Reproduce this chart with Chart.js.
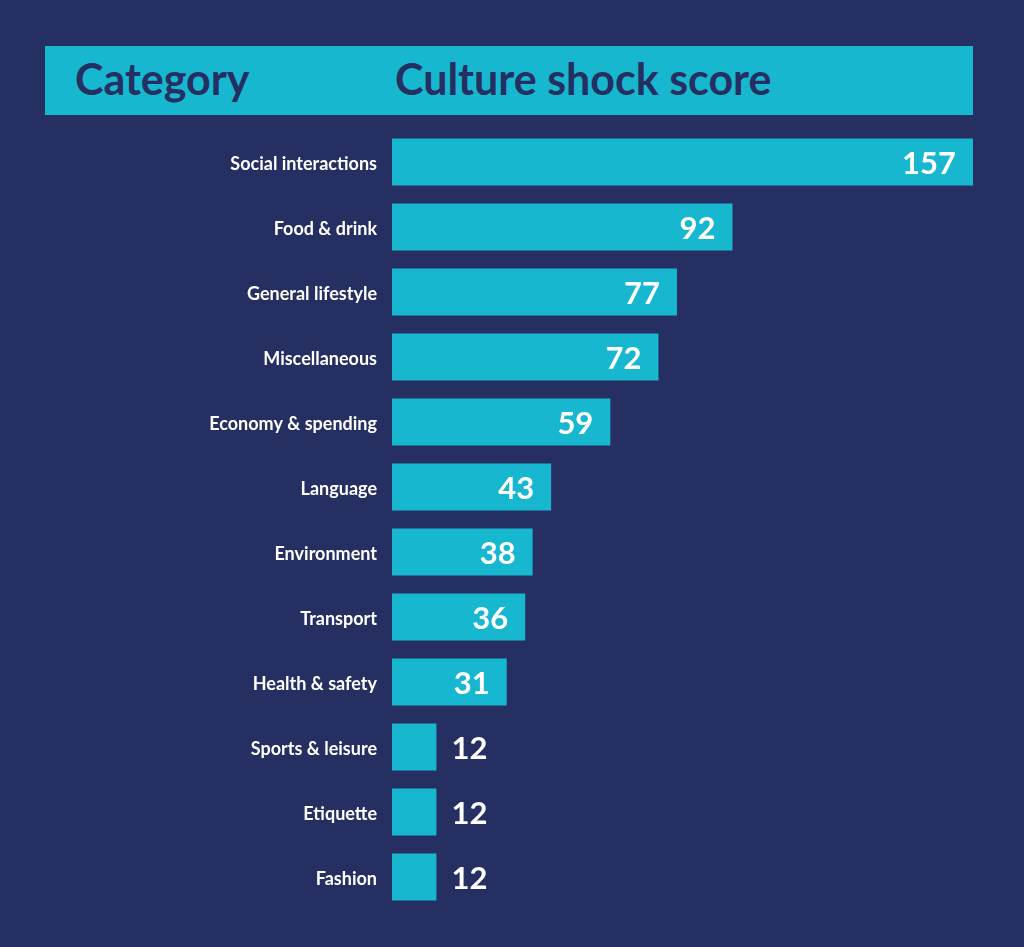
<!DOCTYPE html>
<html lang="en">
<head>
    <meta charset="UTF-8">
    <title>Culture shock score</title>
    <script src="https://cdn.jsdelivr.net/npm/chart.js"></script>
    <style>
        html, body { margin: 0; padding: 0; background: #252f62; }
        #wrap { position: relative; width: 1024px; height: 947px; overflow: hidden; }
        #head {
            position: absolute; left: 45px; top: 46px; width: 928px; height: 69px;
            background: #18b7d0; color: #252f62;
            font-family: Lato, "Open Sans", sans-serif; font-weight: bold; font-size: 43px;
        }
        #head span { position: absolute; top: 9px; line-height: 48px; }
        #chartBox { position: absolute; left: 0; top: 0; width: 1024px; height: 947px; }
    </style>
</head>
<body>
<div id="wrap">
    <div id="head">
        <span style="left:30px">Category</span>
        <span style="left:350px">Culture shock score</span>
    </div>
    <div id="chartBox"><canvas id="myChart"></canvas></div>
</div>
<script>
    const categories = ['Social interactions', 'Food & drink', 'General lifestyle', 'Miscellaneous',
        'Economy & spending', 'Language', 'Environment', 'Transport', 'Health & safety',
        'Sports & leisure', 'Etiquette', 'Fashion'];
    const scores = [157, 92, 77, 72, 59, 43, 38, 36, 31, 12, 12, 12];

    // value labels: inside the bar end when there is room, otherwise just after it
    const valueLabels = {
        id: 'valueLabels',
        afterDatasetsDraw(chart) {
            const ctx = chart.ctx;
            const meta = chart.getDatasetMeta(0);
            ctx.save();
            ctx.fillStyle = '#ffffff';
            ctx.font = 'bold 31px Lato, "Open Sans", sans-serif';
            ctx.textBaseline = 'middle';
            meta.data.forEach((bar, i) => {
                const v = scores[i];
                if (v >= 20) {
                    ctx.textAlign = 'right';
                    ctx.fillText(String(v), bar.x - 17, bar.y + 2);
                } else {
                    ctx.textAlign = 'left';
                    ctx.fillText(String(v), bar.x + 15, bar.y + 2);
                }
            });
            ctx.restore();
        }
    };

    const ctx = document.getElementById('myChart').getContext('2d');
    new Chart(ctx, {
        type: 'bar',
        data: {
            labels: categories,
            datasets: [{
                data: scores,
                backgroundColor: '#18b7d0',
                borderWidth: 0,
                categoryPercentage: 1,
                barPercentage: 47 / 65
            }]
        },
        options: {
            indexAxis: 'y',
            responsive: true,
            maintainAspectRatio: false,
            animation: false,
            layout: { padding: { left: 0, right: 51, top: 129.5, bottom: 37.5 } },
            plugins: { legend: { display: false }, tooltip: { enabled: false } },
            scales: {
                x: { min: 0, max: 157, display: false },
                y: {
                    grid: { display: false },
                    border: { display: false },
                    ticks: {
                        color: '#ffffff',
                        padding: 7,
                        labelOffset: 2,
                        font: { family: 'Lato, "Open Sans", sans-serif', weight: 'bold', size: 18 }
                    },
                    afterFit(scale) { scale.width = 392; }
                }
            }
        },
        plugins: [valueLabels]
    });
</script>
</body>
</html>
